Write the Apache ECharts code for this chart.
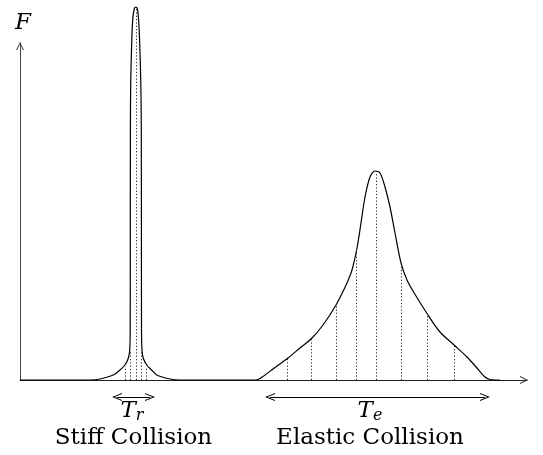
<!DOCTYPE html>
<html>
<head>
<meta charset="utf-8">
<script src="https://cdn.jsdelivr.net/npm/echarts@6/dist/echarts.min.js"></script>
<style>html,body{margin:0;padding:0;background:#fff}#c{width:543px;height:455px}</style>
</head>
<body>
<div id="c"></div>
<script>
// Force curve F(t): stiff collision pulse followed by elastic collision pulse (arbitrary units)
const curveT = [0, 7.0, 8.0, 9.33, 10.0, 10.5, 10.83, 10.97, 11.02, 11.03, 11.04, 11.07, 11.17, 11.27, 11.42, 11.58, 11.74, 11.86, 11.97, 12.08, 12.13, 12.14, 12.15, 12.2, 12.33, 12.67, 13.17, 13.67, 15.0, 16.0,
  23.6, 24.3, 25.3, 26.8, 28.0, 29.2, 30.3, 31.6, 32.7, 33.2, 33.7, 34.1, 34.5, 35.0, 35.5, 36.0, 36.5, 37.0, 37.5, 38.1, 38.7, 39.3, 40.8, 42.0, 43.4, 44.7, 45.7, 46.5, 47.0, 48.0];
const curveF = [0, 0, 0.1, 0.5, 1.0, 1.5, 2.17, 3.0, 5, 15, 25, 29.7, 33.7, 36, 37.1, 37.3, 37.1, 36, 33.7, 29.7, 25, 15, 5, 3.0, 2.17, 1.5, 1.0, 0.5, 0.1, 0,
  0, 0.35, 1.1, 2.2, 3.2, 4.2, 5.5, 7.5, 9.7, 11.0, 13.2, 15.7, 18.3, 20.3, 20.9, 20.7, 19.3, 17.3, 14.7, 11.7, 10.0, 8.9, 6.5, 4.8, 3.5, 2.3, 1.2, 0.3, 0.05, 0];

// Sampling instants (dotted lines) for each collision
const stiffSampleT = [10.57, 11.07, 11.6, 12.1, 12.67];
const stiffSampleF = [1.3, 3.0, 37.3, 3.0, 1.3];
const elasticSampleT = [26.77, 29.17, 31.63, 33.67, 35.67, 38.1, 40.77, 43.43];
const elasticSampleF = [2.2, 4.2, 7.5, 13.2, 20.7, 11.7, 6.5, 3.5];

// Durations of the two collisions
const stiffSpan = [9.7, 13.0];
const elasticSpan = [25.0, 46.5];
const stiffLabelT = 11.2;
const elasticLabelT = 35.0;
const spanLabels = [['T', 'r'], ['T', 'e']];
const collisionLabels = ['Stiff Collision', 'Elastic Collision'];
const axisName = 'F';

const T_MAX = 50.7, F_AXIS_MAX = 33.7, F_TOP = 38, F_BOTTOM = -7.5;
const ARROW_Y = -1.7, SYMBOL_Y = -3.1, NAME_Y = -5.85;
const serif = 'DejaVu Serif';
const chevron = 'path://M0,10 L5,0 L10,10 L8.6,10 L5,2.6 L1.4,10 Z';

const curve = curveT.map((t, i) => [t, curveF[i]]);
const samples = stiffSampleT.map((t, i) => [t, stiffSampleF[i]])
  .concat(elasticSampleT.map((t, i) => [t, elasticSampleF[i]]))
  .map(p => [{ coord: [p[0], 0] }, { coord: [p[0], p[1]] }]);

const chart = echarts.init(document.getElementById('c'), null, { renderer: 'canvas' });
chart.setOption({
  animation: false,
  backgroundColor: '#fff',
  textStyle: { fontFamily: serif },
  grid: [
    { left: 20, right: 16, top: 43, bottom: 75 },
    { left: 20, right: 16, top: 0, bottom: 0 }
  ],
  xAxis: [
    { gridIndex: 0, type: 'value', min: 0, max: T_MAX,
      axisLine: { show: true, symbol: ['none', chevron], symbolSize: [8, 10], symbolOffset: [0, -3], lineStyle: { color: '#222', width: 1 } },
      axisTick: { show: false }, axisLabel: { show: false }, splitLine: { show: false } },
    { gridIndex: 1, type: 'value', min: 0, max: T_MAX, show: false }
  ],
  yAxis: [
    { gridIndex: 0, type: 'value', min: 0, max: F_AXIS_MAX,
      name: axisName, nameLocation: 'end', nameGap: 8,
      nameTextStyle: { fontFamily: serif, fontStyle: 'italic', fontSize: 23, color: '#000', align: 'center', padding: [0, 0, 0, 6] },
      axisLine: { show: true, symbol: ['none', chevron], symbolSize: [8, 10], symbolOffset: [0, -3], lineStyle: { color: '#444', width: 1 } },
      axisTick: { show: false }, axisLabel: { show: false }, splitLine: { show: false } },
    { gridIndex: 1, type: 'value', min: F_BOTTOM, max: F_TOP, show: false }
  ],
  series: [
    {
      type: 'line', xAxisIndex: 1, yAxisIndex: 1, data: curve,
      smooth: 0.3, symbol: 'none',
      lineStyle: { color: '#000', width: 1.2 },
      markLine: {
        silent: true, symbol: ['none', 'none'], label: { show: false },
        lineStyle: { color: '#333', width: 1, type: [1.3, 2] },
        data: samples
      }
    },
    {
      type: 'line', xAxisIndex: 1, yAxisIndex: 1, data: [],
      markLine: {
        silent: true, symbol: [chevron, chevron], symbolSize: [8, 10], label: { show: false },
        lineStyle: { color: '#000', width: 1, type: 'solid' },
        data: [
          [{ coord: [stiffSpan[0], ARROW_Y] }, { coord: [stiffSpan[1], ARROW_Y] }],
          [{ coord: [elasticSpan[0], ARROW_Y] }, { coord: [elasticSpan[1], ARROW_Y] }]
        ]
      },
      markPoint: {
        silent: true, symbol: 'circle', symbolSize: 0,
        label: {
          show: true, position: 'inside', color: '#000',
          fontFamily: serif, fontSize: 23,
          formatter: p => p.name,
          rich: {
            T: { fontFamily: serif, fontStyle: 'italic', fontSize: 23, color: '#000' },
            s: { fontFamily: serif, fontStyle: 'italic', fontSize: 16, color: '#000', padding: [9, 0, 0, 0] },
            n: { fontFamily: serif, fontSize: 23, color: '#000' }
          }
        },
        data: [
          { name: '{T|' + spanLabels[0][0] + '}{s|' + spanLabels[0][1] + '}', coord: [stiffLabelT, SYMBOL_Y] },
          { name: '{T|' + spanLabels[1][0] + '}{s|' + spanLabels[1][1] + '}', coord: [elasticLabelT, SYMBOL_Y] },
          { name: '{n|' + collisionLabels[0] + '}', coord: [(stiffSpan[0] + stiffSpan[1]) / 2, NAME_Y] },
          { name: '{n|' + collisionLabels[1] + '}', coord: [elasticLabelT, NAME_Y] }
        ]
      }
    }
  ]
});
</script>
</body>
</html>
